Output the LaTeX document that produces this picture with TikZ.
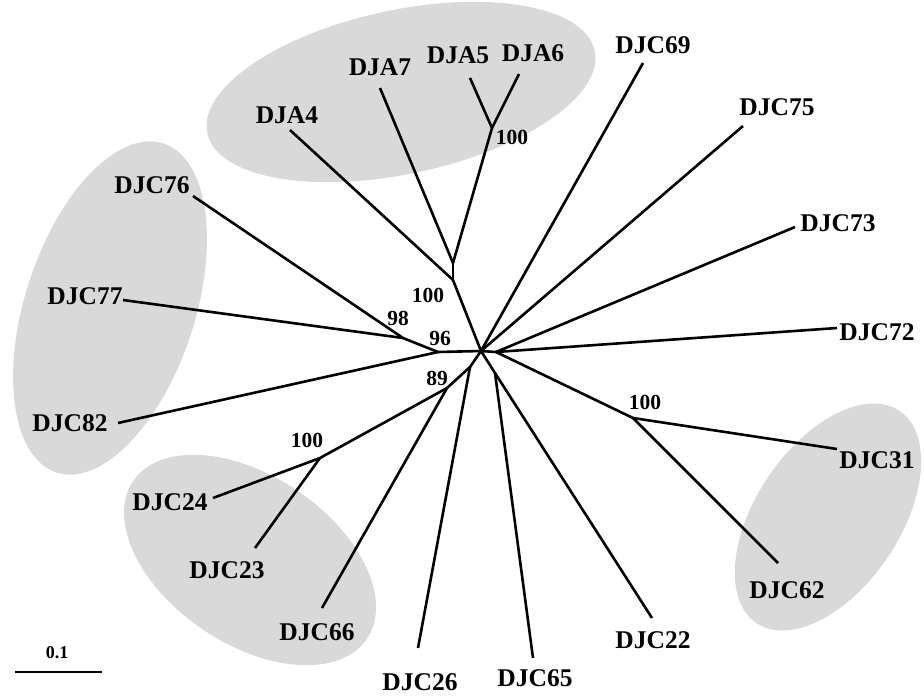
\documentclass[tikz,border=0pt]{standalone}
\usepackage{fontspec}
\setmainfont{Liberation Serif}
\begin{document}
\begin{tikzpicture}[x=1pt,y=-1pt,
  branch/.style={line width=2.6pt},
  taxon/.style={font=\bfseries\fontsize{25.5}{25.5}\selectfont, inner sep=0pt},
  boot/.style={font=\bfseries\fontsize{21.5}{21.5}\selectfont, inner sep=0pt},
  blob/.style={fill=gray!30}]
\useasboundingbox (0,0) rectangle (924,697);

% shaded groups
\fill[blob, rotate around={12:(401,92)}] (401,92) ellipse [x radius=198pt, y radius=82pt];
\fill[blob, rotate around={72:(110,308)}] (110,308) ellipse [x radius=173pt, y radius=85pt];
\fill[blob, rotate around={-34:(250,560)}] (250,560) ellipse [x radius=141pt, y radius=84pt];
\fill[blob, rotate around={56:(828,517)}] (828,517) ellipse [x radius=128pt, y radius=72pt];

% internal nodes
\coordinate (C) at (481,351);
\coordinate (R) at (496,352);
\coordinate (n2) at (453,280);
\coordinate (n1) at (453,263);
\coordinate (a56) at (492,128);
\coordinate (b98) at (403,338);
\coordinate (b96) at (438,352);
\coordinate (d1) at (470,367);
\coordinate (d89) at (447,388);
\coordinate (d100) at (320,458);
\coordinate (e65) at (495,373);
\coordinate (f100) at (633,418);

% tips
\coordinate (t4) at (290,130);
\coordinate (t7) at (380,88);
\coordinate (t5) at (470,78);
\coordinate (t6) at (519,74);
\coordinate (t69) at (643,63);
\coordinate (t75) at (743,126);
\coordinate (t73) at (795,227);
\coordinate (t72) at (837,328);
\coordinate (t31) at (837,449);
\coordinate (t62) at (778,563);
\coordinate (t22) at (652,618);
\coordinate (t65) at (533,658);
\coordinate (t26) at (418,648);
\coordinate (t66) at (322,608);
\coordinate (t23) at (255,548);
\coordinate (t24) at (213,498);
\coordinate (t82) at (118,423);
\coordinate (t77) at (123,300);
\coordinate (t76) at (193,196);

% branches
\draw[branch] (C) -- (R);
\draw[branch] (C) -- (n2);
\draw[branch] (n2) -- (n1);
\draw[branch] (n2) -- (t4);
\draw[branch] (n1) -- (t7);
\draw[branch] (n1) -- (a56);
\draw[branch] (a56) -- (t5);
\draw[branch] (a56) -- (t6);
\draw[branch] (C) -- (t69);
\draw[branch] (C) -- (t75);
\draw[branch] (R) -- (t73);
\draw[branch] (R) -- (t72);
\draw[branch] (R) -- (f100);
\draw[branch] (f100) -- (t31);
\draw[branch] (f100) -- (t62);
\draw[branch] (C) -- (e65);
\draw[branch] (e65) -- (t22);
\draw[branch] (e65) -- (t65);
\draw[branch] (C) -- (d1);
\draw[branch] (d1) -- (t26);
\draw[branch] (d1) -- (d89);
\draw[branch] (d89) -- (t66);
\draw[branch] (d89) -- (d100);
\draw[branch] (d100) -- (t23);
\draw[branch] (d100) -- (t24);
\draw[branch] (C) -- (b96);
\draw[branch] (b96) -- (t82);
\draw[branch] (b96) -- (b98);
\draw[branch] (b98) -- (t77);
\draw[branch] (b98) -- (t76);

% taxon labels
\node[taxon] (lA4) at (287,115) {DJA4};
\node[taxon] (lA7) at (380,67) {DJA7};
\node[taxon] (lA5) at (458,55) {DJA5};
\node[taxon] (lA6) at (533,53) {DJA6};
\node[taxon] (l69) at (653,45) {DJC69};
\node[taxon] (l75) at (777,107) {DJC75};
\node[taxon] (l73) at (838,223) {DJC73};
\node[taxon] (l72) at (877,332) {DJC72};
\node[taxon] (l31) at (877,460) {DJC31};
\node[taxon] (l62) at (787,590) {DJC62};
\node[taxon] (l22) at (653,640) {DJC22};
\node[taxon] (l65) at (535,678) {DJC65};
\node[taxon] (l26) at (420,682) {DJC26};
\node[taxon] (l66) at (317,632) {DJC66};
\node[taxon] (l23) at (227,570) {DJC23};
\node[taxon] (l24) at (170,502) {DJC24};
\node[taxon] (l82) at (70,423) {DJC82};
\node[taxon] (l77) at (85,296) {DJC77};
\node[taxon] (l76) at (152,185) {DJC76};

% bootstrap values
\node[boot] (bsA) at (512,137) {100};
\node[boot] (bsN) at (428,295) {100};
\node[boot] (bs98) at (398,318) {98};
\node[boot] (bs96) at (440,338) {96};
\node[boot] (bs89) at (437,378) {89};
\node[boot] (bsD) at (307,440) {100};
\node[boot] (bsF) at (645,402) {100};

% scale bar
\coordinate (s1) at (15,672);
\coordinate (s2) at (102,672);
\draw[branch] (s1) -- (s2);
\node[boot, font=\bfseries\fontsize{18}{18}\selectfont] (sl) at (57,653) {0.1};
\end{tikzpicture}
\end{document}
